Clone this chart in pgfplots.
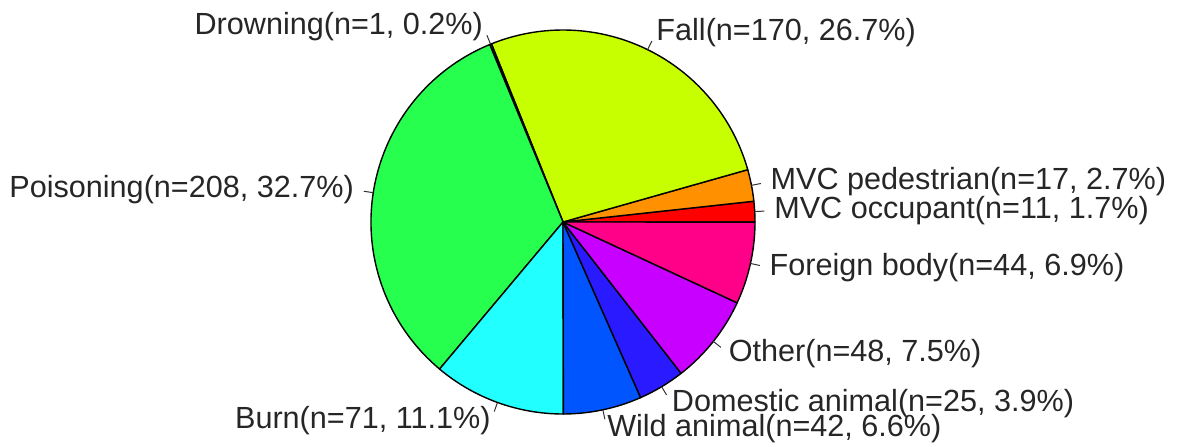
\documentclass[border=0pt]{standalone}
\usepackage{pgfplots}
\pgfplotsset{compat=1.18}
\usepackage{pgfplotstable}
\usepackage{fontspec}
\setmainfont{Liberation Sans}
\definecolor{c1}{HTML}{FF0000}
\definecolor{c2}{HTML}{FF9000}
\definecolor{c3}{HTML}{C8FF00}
\definecolor{c4}{HTML}{33FF00}
\definecolor{c5}{HTML}{26FF4D}
\definecolor{c6}{HTML}{22FFFF}
\definecolor{c7}{HTML}{0055FF}
\definecolor{c8}{HTML}{2A1AFF}
\definecolor{c9}{HTML}{C800FF}
\definecolor{c10}{HTML}{FF0088}
\pgfplotstableread[col sep=semicolon]{
n;pct;name;col
11;1.7;MVC occupant;c1
17;2.7;MVC pedestrian;c2
170;26.7;Fall;c3
1;0.2;Drowning;c4
208;32.7;Poisoning;c5
71;11.1;Burn;c6
42;6.6;Wild animal;c7
25;3.9;Domestic animal;c8
48;7.5;Other;c9
44;6.9;Foreign body;c10
}\pietable
\begin{document}
\begin{tikzpicture}
\begin{axis}[
  width=589pt, height=223pt, scale only axis,
  xmin=0, xmax=1178, ymin=0, ymax=446,
  hide axis, clip=false,
]
\addplot[draw=none] coordinates {(0,0) (1178,446)};
\pgfplotsextra{
  \path (axis cs:0,0) rectangle (axis cs:1178,446);
  \xdef\cum{0}
  \foreach \i in {0,...,9}{
    \pgfplotstablegetelem{\i}{n}\of\pietable \let\nn\pgfplotsretval
    \pgfplotstablegetelem{\i}{col}\of\pietable \let\cc\pgfplotsretval
    \pgfmathsetmacro\sa{\cum}
    \pgfmathsetmacro\sb{\cum+\nn/637*360}
    \pgfmathsetmacro\px{563+192*cos(\sa)}
    \pgfmathsetmacro\py{224+192*sin(\sa)}
    \filldraw[fill=\cc, draw=black, line width=0.7pt, line join=round]
      (axis cs:563,224) -- (axis cs:\px,\py)
      arc[start angle=\sa, end angle=\sb, radius=96pt] -- cycle;
    \xdef\cum{\sb}
  }
  \xdef\cum{0}
  \foreach \i in {0,...,9}{
    \pgfplotstablegetelem{\i}{n}\of\pietable \let\nn\pgfplotsretval
    \pgfplotstablegetelem{\i}{pct}\of\pietable \let\pp\pgfplotsretval
    \pgfplotstablegetelem{\i}{name}\of\pietable \let\nm\pgfplotsretval
    \pgfmathsetmacro\sa{\cum}
    \pgfmathsetmacro\sb{\cum+\nn/637*360}
    \pgfmathsetmacro\sm{(\sa+\sb)/2}
    \pgfmathsetmacro\ax{563+192*cos(\sm)}
    \pgfmathsetmacro\ay{224+192*sin(\sm)}
    \pgfmathsetmacro\bx{563+201.6*cos(\sm)}
    \pgfmathsetmacro\by{224+201.6*sin(\sm)}
    \pgfmathsetmacro\tx{563+211.2*cos(\sm)}
    \pgfmathsetmacro\ty{224+211.2*sin(\sm)}
    \draw[line width=0.5pt, black!80] (axis cs:\ax,\ay) -- (axis cs:\bx,\by);
    \pgfmathparse{cos(\sm)>=0 ? 1 : 0}
    \ifnum\pgfmathresult=1
      \node[anchor=west, inner sep=0pt, text=black!85, font=\fontsize{15.3}{18}\selectfont] at (axis cs:\tx,\ty) {\nm(n=\nn, \pp\%)};
    \else
      \node[anchor=east, inner sep=0pt, text=black!85, font=\fontsize{15.3}{18}\selectfont] at (axis cs:\tx,\ty) {\nm(n=\nn, \pp\%)};
    \fi
    \xdef\cum{\sb}
  }
}
\end{axis}
\end{tikzpicture}
\end{document}
